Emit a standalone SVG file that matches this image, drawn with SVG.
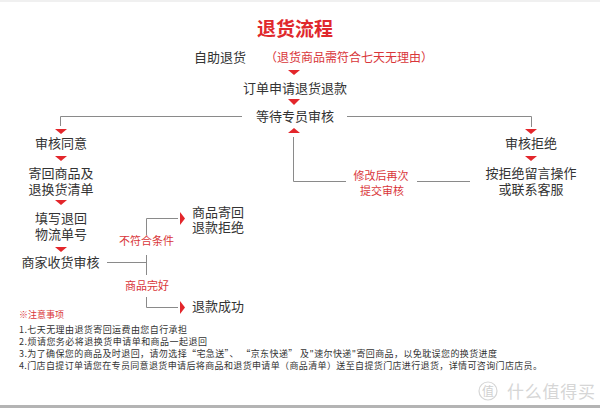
<svg xmlns="http://www.w3.org/2000/svg" width="600" height="408" viewBox="0 0 600 408">
<style>
text{font-family:"Noto Sans CJK SC","Noto Sans",sans-serif;}
.n{font-size:13px;fill:#333;text-anchor:middle;}
.r{font-size:11px;fill:#d9363a;text-anchor:middle;}
.note{font-size:9px;fill:#333;}
.ln{fill:none;stroke:#8a8a8a;stroke-width:1;}
.tri{fill:#e3262b;}
</style>
<rect x="0" y="0" width="600" height="408" fill="#fff"/>
<rect x="0" y="0" width="600" height="2" fill="#f0f0f0"/>
<rect x="0" y="405" width="600" height="3" fill="#b4b4b4"/>

<text x="295" y="36" style="font-size:19px;font-weight:bold;fill:#e0282c;text-anchor:middle">退货流程</text>

<g id="connectors">
  <polygon class="tri" points="288,70 300,70 294,75"/>
  <polygon class="tri" points="288,99 300,99 294,105"/>
  <polyline class="ln" points="242,116.5 60.5,116.5 60.5,126"/>
  <polyline class="ln" points="347,116.5 531.5,116.5 531.5,127"/>
  <polygon class="tri" points="55,129 67,129 61,134"/>
  <polygon class="tri" points="525,129 537,129 531,134"/>
  <polygon class="tri" points="55,156 67,156 61,161"/>
  <polygon class="tri" points="525,156 537,156 531,161"/>
  <polygon class="tri" points="55,200 67,200 61,205"/>
  <polygon class="tri" points="55,247 67,247 61,252"/>
  <polygon class="tri" points="288,133 300,133 294,128"/>
  <polyline class="ln" points="293.5,137 293.5,181.5 346,181.5"/>
  <line class="ln" x1="417" y1="181.5" x2="470" y2="181.5"/>
  <line class="ln" x1="107" y1="262.5" x2="146.5" y2="262.5"/>
  <polyline class="ln" points="178,218.5 146.5,218.5 146.5,235"/>
  <line class="ln" x1="146.5" y1="255" x2="146.5" y2="275"/>
  <polyline class="ln" points="146.5,297 146.5,307.5 178,307.5"/>
  <polygon class="tri" points="180,212 180,225 185,218.5"/>
  <polygon class="tri" points="180,301 180,314 185,307.5"/>
  <text class="r" x="381" y="180">修改后再次</text>
  <text class="r" x="382" y="195">提交审核</text>
  <text class="r" x="146.5" y="245">不符合条件</text>
  <text class="r" x="147" y="290">商品完好</text>
</g>

<g id="n-self"><text x="220" y="62" class="n">自助退货</text>
  <text x="349" y="62" style="font-size:12px;fill:#d9363a;text-anchor:middle">（退货商品需符合七天无理由）</text></g>
<g id="n-apply"><text x="295" y="93" class="n">订单申请退货退款</text></g>
<g id="n-wait"><text x="295" y="121" class="n">等待专员审核</text></g>
<g id="n-agree"><text x="61" y="148" class="n">审核同意</text></g>
<g id="n-send"><text x="61" y="178" class="n">寄回商品及</text><text x="61" y="194" class="n">退换货清单</text></g>
<g id="n-fill"><text x="61" y="223" class="n">填写退回</text><text x="61" y="239" class="n">物流单号</text></g>
<g id="n-check"><text x="60.5" y="267" class="n">商家收货审核</text></g>
<g id="n-reject2"><text x="218" y="217" class="n">商品寄回</text><text x="218" y="232" class="n">退款拒绝</text></g>
<g id="n-success"><text x="218" y="311" class="n">退款成功</text></g>
<g id="n-reject"><text x="531" y="148" class="n">审核拒绝</text></g>
<g id="n-contact"><text x="531" y="178" class="n">按拒绝留言操作</text><text x="531" y="194" class="n">或联系客服</text></g>

<g id="notes">
  <text x="19" y="318" style="font-size:9px;fill:#d9363a">※注意事项</text>
  <text x="19" y="333" class="note" textLength="168" lengthAdjust="spacing">1.七天无理由退货寄回运费由您自行承担</text>
  <text x="19" y="345" class="note" textLength="188" lengthAdjust="spacing">2.烦请您务必将退换货申请单和商品一起退回</text>
  <text x="19" y="357" class="note" textLength="478" lengthAdjust="spacing">3.为了确保您的商品及时退回，请勿选择“宅急送”、 “京东快递” 及"速尔快递"寄回商品，以免耽误您的换货进度</text>
  <text x="19" y="369" class="note" textLength="523" lengthAdjust="spacing">4.门店自提订单请您在专员同意退货申请后将商品和退货申请单（商品清单）送至自提货门店进行退货，详情可咨询门店店员。</text>
</g>

<g id="watermark">
  <circle cx="488" cy="391" r="9" fill="none" stroke="#d6d6d6" stroke-width="1.2"/>
  <text x="488" y="396" style="font-size:12px;fill:#d0d0d0;text-anchor:middle">值</text>
  <text x="507" y="398" style="font-size:17px;fill:#d6d6d6" textLength="88" lengthAdjust="spacing">什么值得买</text>
</g>
</svg>
